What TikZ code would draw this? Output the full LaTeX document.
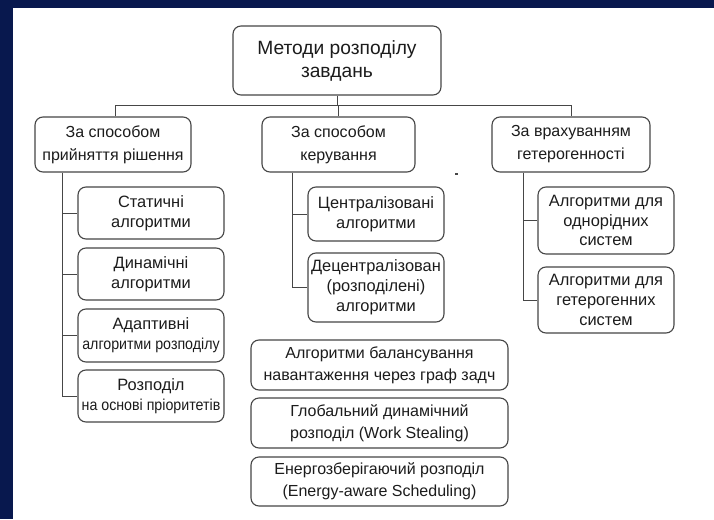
\documentclass[tikz,border=0pt]{standalone}
\usepackage{fontspec}
\setmainfont{Liberation Sans}
\definecolor{navy}{RGB}{8,24,78}
\definecolor{ink}{RGB}{28,28,28}
\definecolor{edge}{RGB}{70,70,70}
\tikzset{
  x=1pt, y=-1pt,
  box/.style={draw=edge, line width=1.1pt, rounded corners=8pt, fill=white,
    align=center, text=ink, inner sep=0pt},
  rootbox/.style={box, font=\fontsize{19.2}{23}\selectfont},
  catbox/.style={box, font=\fontsize{16}{23}\selectfont},
  leafbox/.style={box, font=\fontsize{16.4}{19.8}\selectfont},
  widebox/.style={box, font=\fontsize{16}{22}\selectfont},
  link/.style={draw=edge, line width=1pt},
}
\newcommand{\narrowtext}[1]{{\fontsize{15.8}{19.8}\selectfont\addfontfeature{FakeStretch=0.9}#1}}
\begin{document}
\begin{tikzpicture}
  % page and dark frame
  \fill[navy] (0,0) rectangle (714,519);
  \fill[white] (13,8) rectangle (714,519);
  \useasboundingbox (0,0) rectangle (714,519);

  % root
  \node[rootbox, minimum width=208pt, minimum height=69pt] (root) at (337,60.5)
    {Методи розподілу\\завдань};

  % categories
  \node[catbox, minimum width=156pt, minimum height=55pt] (A) at (113,144.5)
    {За способом\\прийняття рішення};
  \node[catbox, minimum width=153pt, minimum height=55pt] (B) at (338.5,144.5)
    {За способом\\керування};
  \node[catbox, minimum width=158pt, minimum height=55pt] (C) at (571,144.5)
    {За врахуванням\\гетерогенності};

  % decision-based methods
  \node[leafbox, minimum width=146pt, minimum height=52pt] (a1) at (151,213)
    {Статичні\\алгоритми};
  \node[leafbox, minimum width=146pt, minimum height=52pt] (a2) at (151,274)
    {Динамічні\\алгоритми};
  \node[leafbox, minimum width=146pt, minimum height=53pt] (a3) at (151,335.5)
    {Адаптивні\\\narrowtext{алгоритми розподілу}};
  \node[leafbox, minimum width=146pt, minimum height=52pt] (a4) at (151,396)
    {Розподіл\\\narrowtext{на основі пріоритетів}};

  % control-based methods
  \node[leafbox, minimum width=136pt, minimum height=54pt] (b1) at (376,214)
    {Централізовані\\алгоритми};
  \node[leafbox, minimum width=136pt, minimum height=69pt] (b2) at (376,287.5)
    {Децентралізован\\(розподілені)\\алгоритми};

  % heterogeneity-based methods
  \node[leafbox, minimum width=136pt, minimum height=67pt] (c1) at (606,220.5)
    {Алгоритми для\\однорідних\\систем};
  \node[leafbox, minimum width=136pt, minimum height=66pt] (c2) at (606,300)
    {Алгоритми для\\гетерогенних\\систем};

  % further methods
  \node[widebox, minimum width=257pt, minimum height=50pt] (d1) at (379.5,365)
    {Алгоритми балансування\\навантаження через граф задч};
  \node[widebox, minimum width=257pt, minimum height=50pt] (d2) at (379.5,423)
    {Глобальний динамічний\\розподіл (Work Stealing)};
  \node[widebox, minimum width=257pt, minimum height=49pt] (d3) at (379.5,481.5)
    {Енергозберігаючий розподіл\\(Energy-aware Scheduling)};

  % bus under the root
  \coordinate (bus) at (337,105);
  \draw[link] (root.south) -- (root.south |- bus);
  \draw[link] ([xshift=2pt]A.north) -- ([xshift=2pt]A.north |- bus) -| (C.north);
  \draw[link] (B.north) -- (B.north |- bus);

  % spines
  \coordinate (sa) at (62,0);
  \coordinate (sb) at (292,0);
  \coordinate (sc) at (523,0);
  \draw[link] (A.south -| sa) |- (a4.west);
  \foreach \n in {a1,a2,a3} \draw[link] (\n.west -| sa) -- (\n.west);
  \draw[link] (B.south -| sb) |- (b2.west);
  \draw[link] (b1.west -| sb) -- (b1.west);
  \draw[link] (C.south -| sc) |- (c2.west);
  \draw[link] (c1.west -| sc) -- (c1.west);

  % stray mark
  \fill[edge] (455,172.5) rectangle (458,174.5);
\end{tikzpicture}
\end{document}
